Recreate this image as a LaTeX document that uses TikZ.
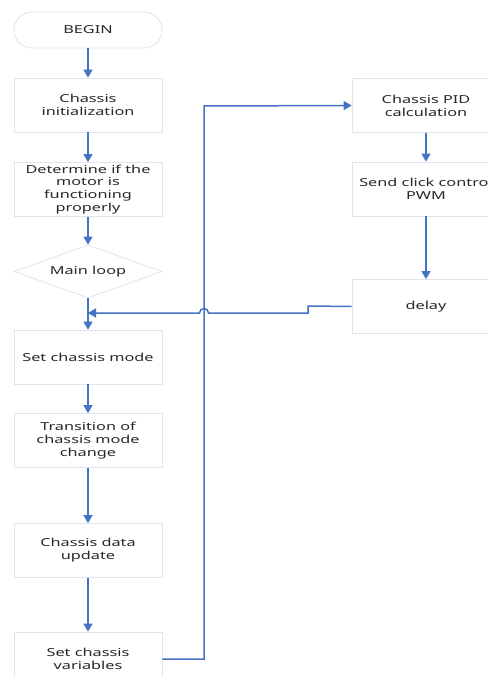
\documentclass[tikz,border=0pt]{standalone}
\usepackage{fontspec}
\setmainfont{Noto Sans}[FakeStretch=1.48]
\usetikzlibrary{arrows.meta,shapes.geometric}
\definecolor{flowblue}{RGB}{68,114,196}
\definecolor{boxline}{RGB}{222,228,240}
\definecolor{boxtext}{RGB}{40,40,40}

\begin{document}
\begin{tikzpicture}[x=1pt,y=-1pt,
   box/.style={draw=boxline,line width=0.8pt,fill=white,rectangle,
      minimum width=148pt,minimum height=54pt,inner sep=0pt,
      align=center,text=boxtext,font=\fontsize{11}{12.8}\selectfont},
   arr/.style={draw=flowblue,line width=1.5pt,
      -{Triangle[width=9pt,length=8pt]}}]
         \clip (0,0) rectangle (488,677) ;
         %\draw[very thin,gray,step=10] (0,0) grid (488,677) ;
         \node[box,rounded corners=18pt,minimum height=36pt] (begin) at (88,30) {BEGIN} ;
         \node[box] (init) at (88,105) {Chassis\\initialization} ;
         \node[box] (motor) at (88,189.5) {Determine if the\\motor is\\functioning\\properly} ;
         \node[box,diamond,aspect=2.8,minimum height=53pt] (loop) at (88,271.5) {Main loop} ;
         \node[box] (mode) at (88,357) {Set chassis mode} ;
         \node[box] (trans) at (88,440.5) {Transition of\\chassis mode\\change} ;
         \node[box] (update) at (88,550.5) {Chassis data\\update} ;
         \node[box] (vars) at (88,659) {Set chassis\\variables} ;
         \node[box] (pid) at (426,105.5) {Chassis PID\\calculation} ;
         \node[box] (pwm) at (426,189) {Send click control\\PWM} ;
         \node[box] (delay) at (426,306.5) {delay} ;
         \coordinate (join) at (88,313) ;
         % main column
         \draw[arr] (begin) -- (init) ;
         \draw[arr] (init) -- (motor) ;
         \draw[arr] (motor) -- (loop) ;
         \draw[arr] (loop) -- (mode) ;
         \draw[arr] (mode) -- (trans) ;
         \draw[arr] (trans) -- (update) ;
         \draw[arr] (update) -- (vars) ;
         % right column
         \draw[arr] (vars.east) -- (204,659) -- (204,106) -- (pid.west) ;
         \draw[arr] (pid) -- (pwm) ;
         \draw[arr] (pwm) -- (delay) ;
         % back to the loop
         \draw[arr] (delay.west) -- (308,306) -- (308,313) -- (208.5,313)
            arc (0:180:4.5pt) -- (join) ;
      \end{tikzpicture}
\end{document}
